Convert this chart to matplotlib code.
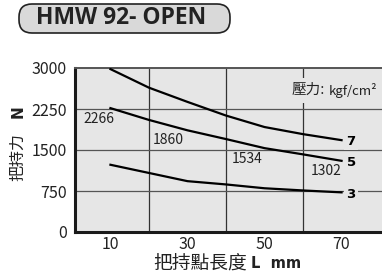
import matplotlib.pyplot as plt
from matplotlib.patches import FancyBboxPatch
from matplotlib.transforms import IdentityTransform

plt.rcParams['font.family'] = ['Noto Sans CJK TC', 'DejaVu Sans']

# grip length L (mm)
length = [10, 20, 30, 40, 50, 60, 70]
# gripping force (N) at 3, 5, 7 kgf/cm2
force_7 = [2980, 2640, 2380, 2130, 1920, 1790, 1680]
force_5 = [2266, 2050, 1860, 1700, 1534, 1420, 1302]
force_3 = [1230, 1080, 930, 870, 800, 760, 725]
pressures = ['7', '5', '3']

# value labels on the 5 kgf/cm2 curve
note_x = [7.0, 25.0, 45.5, 66.0]
note_y = [2060, 1690, 1340, 1120]
note_text = ['2266', '1860', '1534', '1302']

xticks = [10, 30, 50, 70]
xgrid = [20, 40, 60]
yticks = [0, 750, 1500, 2250, 3000]

bg = '#e6e6e6'

fig = plt.figure(figsize=(3.82, 2.76), dpi=100)
ax = fig.add_axes([75 / 382, 1 - 232 / 276, 1 - 75 / 382, 164 / 276])
ax.set_facecolor(bg)

ax.set_xlim(0.8, 80.5)
ax.set_ylim(0, 3000)

# grid
for gx in xgrid:
    ax.axvline(gx, color='#333333', lw=0.9, zorder=1)
for gy in yticks[1:4]:
    ax.axhline(gy, color='#555555', lw=0.9, zorder=1)

for ys, p in zip([force_7, force_5, force_3], pressures):
    ax.plot(length, ys, color='black', lw=1.6, zorder=3)
    ax.text(71.3, ys[-1] - 30, p, fontsize=9.5, fontweight='bold',
            family=['DejaVu Sans'], va='center', ha='left', zorder=4,
            bbox=dict(facecolor=bg, edgecolor='none', pad=1.5))

for nx, ny, nt in zip(note_x, note_y, note_text):
    ax.text(nx, ny, nt, fontsize=10, ha='center', va='center', color='#222222', zorder=4)

# pressure unit label
ax.text(0.815, 0.865, '壓力:', transform=ax.transAxes, fontsize=10.5,
        ha='right', va='center', color='#222222', zorder=4,
        bbox=dict(facecolor=bg, edgecolor='none', pad=4))
ax.text(0.985, 0.86, 'kgf/cm²', transform=ax.transAxes, fontsize=9.5,
        ha='right', va='center', color='#222222', zorder=4)

ax.set_xticks(xticks)
ax.set_yticks(yticks)
ax.tick_params(length=0, labelsize=11.5, colors='#222222')
ax.tick_params(axis='y', pad=6)
ax.tick_params(axis='x', pad=3)

for s in ['left', 'bottom']:
    ax.spines[s].set_linewidth(2.2)
    ax.spines[s].set_color('#1a1a1a')
ax.spines['top'].set_linewidth(1.4)
ax.spines['top'].set_color('#555555')
ax.spines['right'].set_visible(False)

# axis labels (mixed weights)
fig.text(18 / 382, 1 - 157 / 276, '把持力', rotation=90, fontsize=11.5,
         ha='center', va='center', color='#222222')
fig.text(18 / 382, 1 - 112 / 276, 'N', rotation=90, fontsize=11, fontweight='bold',
         family=['DejaVu Sans'], ha='center', va='center', color='#222222')
fig.text(247 / 382, 1 - 263 / 276, '把持點長度', fontsize=13.5,
         ha='right', va='center', color='#222222')
fig.text(251 / 382, 1 - 263 / 276, 'L  mm', fontsize=10.5, fontweight='bold',
         family=['DejaVu Sans'], ha='left', va='center', color='#222222')

# title in pill-shaped box (pixel coordinates)
box = FancyBboxPatch((19, 276 - 33), 211, 29,
                     boxstyle='round,pad=0,rounding_size=13',
                     transform=IdentityTransform(), facecolor='#d9d9d9',
                     edgecolor='#222222', lw=1.2)
fig.patches.append(box)
fig.text(121 / 382, 1 - 18 / 276, 'HMW 92- OPEN', fontsize=16.5, fontweight='bold',
         family=['Open Sans'], ha='center', va='center', color='#222222')

fig.savefig('out.png', dpi=100)
